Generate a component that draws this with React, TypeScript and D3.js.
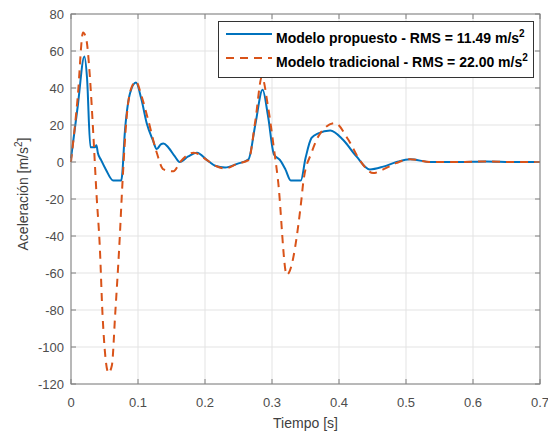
import React, { useEffect, useRef } from 'react'
import * as d3 from 'd3'

// Modelo propuesto (blue)
const tPropuesto = [0, 0.01, 0.020, 0.024, 0.029, 0.036, 0.038, 0.040, 0.045, 0.052, 0.063, 0.075, 0.081, 0.088, 0.097, 0.105, 0.113, 0.122, 0.128, 0.134, 0.138, 0.145, 0.155, 0.162, 0.175, 0.188, 0.203, 0.215, 0.230, 0.248, 0.265, 0.275, 0.286, 0.294, 0.303, 0.312, 0.320, 0.328, 0.343, 0.350, 0.359, 0.369, 0.387, 0.406, 0.426, 0.446, 0.466, 0.486, 0.506, 0.536, 0.58, 0.62, 0.66, 0.7]
const aPropuesto = [2, 30, 57, 45, 8, 8, 9, 5, 1, -4, -10, -10, 19, 37, 43, 34, 21, 12, 7, 9.5, 10, 8, 3, 0, 3, 5, 1, -2, -3, -1, 1.5, 20, 39, 25, 4, 1, -4, -10, -10, 2, 13, 15.5, 17, 12, 3, -4, -2.5, 0, 1.5, 0, 0, 0.3, 0, 0]

// Modelo tradicional (orange, dashed)
const tTradicional = [0, 0.01, 0.018, 0.023, 0.028, 0.033, 0.038, 0.043, 0.047, 0.056, 0.061, 0.066, 0.072, 0.077, 0.083, 0.090, 0.097, 0.105, 0.115, 0.128, 0.138, 0.153, 0.163, 0.183, 0.203, 0.215, 0.230, 0.248, 0.265, 0.275, 0.285, 0.294, 0.303, 0.309, 0.322, 0.325, 0.344, 0.347, 0.359, 0.372, 0.394, 0.414, 0.431, 0.451, 0.466, 0.486, 0.506, 0.536, 0.58, 0.62, 0.66, 0.7]
const aTradicional = [0, 35, 70, 66, 47, 17, -17, -46, -82, -114, -110, -82, -46, -10, 24, 40, 43.5, 36, 23, 5, -4, -5, 0, 5, 1, -2, -3.5, -1, 1, 22, 46, 30, 7, -10, -61, -60, -20, -10, 5, 15.5, 21, 12, 1, -6, -4, -0.5, 1.5, 0, 0, 0.3, 0, 0]

const xTicks = [0, 0.1, 0.2, 0.3, 0.4, 0.5, 0.6, 0.7]
const yTicks = [-120, -100, -80, -60, -40, -20, 0, 20, 40, 60, 80]

const legendLabels = ['Modelo propuesto - RMS = 11.49 m/s', 'Modelo tradicional - RMS = 22.00 m/s']

const FONT = '"Liberation Sans", Arial, Helvetica, sans-serif'

function App() {
    const ref = useRef<SVGSVGElement>(null)

    useEffect(() => {
        const width = 548
        const height = 436
        const margin = { left: 71, right: 8, top: 14, bottom: 52 }
        const x = d3.scaleLinear().domain([0, 0.7]).range([margin.left, width - margin.right])
        const y = d3.scaleLinear().domain([-120, 80]).range([height - margin.bottom, margin.top])

        const svg = d3.select(ref.current)
        svg.selectAll('*').remove()

        const x0 = x.range()[0], x1 = x.range()[1]
        const y0 = y.range()[0], y1 = y.range()[1]

        // white plot background
        svg.append('rect').attr('x', x0).attr('y', y1).attr('width', x1 - x0).attr('height', y0 - y1).attr('fill', '#fff')

        // grid
        const grid = svg.append('g').attr('stroke', '#e3e3e3').attr('stroke-width', 1)
        xTicks.forEach((t) => {
            grid.append('line').attr('x1', x(t)).attr('x2', x(t)).attr('y1', y0).attr('y2', y1)
        })
        yTicks.forEach((t) => {
            grid.append('line').attr('x1', x0).attr('x2', x1).attr('y1', y(t)).attr('y2', y(t))
        })

        // curves
        const line = d3.line<[number, number]>()
            .x((d) => x(d[0]))
            .y((d) => y(d[1]))
            .curve(d3.curveMonotoneX)

        const propuesto = tPropuesto.map((t, i) => [t, aPropuesto[i]] as [number, number])
        const tradicional = tTradicional.map((t, i) => [t, aTradicional[i]] as [number, number])

        svg.append('path').attr('d', line(propuesto)).attr('fill', 'none')
            .attr('stroke', '#0072BD').attr('stroke-width', 2)
        svg.append('path').attr('d', line(tradicional)).attr('fill', 'none')
            .attr('stroke', '#D95319').attr('stroke-width', 2).attr('stroke-dasharray', '8,6')

        // axes box + ticks
        const axisColor = '#808080'
        const box = svg.append('g').attr('stroke', axisColor).attr('stroke-width', 1).attr('fill', 'none')
        box.append('rect').attr('x', x0).attr('y', y1).attr('width', x1 - x0).attr('height', y0 - y1)
        xTicks.forEach((t) => {
            box.append('line').attr('x1', x(t)).attr('x2', x(t)).attr('y1', y0).attr('y2', y0 - 5)
            box.append('line').attr('x1', x(t)).attr('x2', x(t)).attr('y1', y1).attr('y2', y1 + 5)
        })
        yTicks.forEach((t) => {
            box.append('line').attr('x1', x0).attr('x2', x0 + 5).attr('y1', y(t)).attr('y2', y(t))
            box.append('line').attr('x1', x1).attr('x2', x1 - 5).attr('y1', y(t)).attr('y2', y(t))
        })

        // tick labels
        const labels = svg.append('g').attr('font-family', FONT).attr('font-size', 13).attr('fill', '#4d4d4d')
        xTicks.forEach((t) => {
            labels.append('text').attr('x', x(t)).attr('y', y0 + 23).attr('text-anchor', 'middle').text(String(t))
        })
        yTicks.forEach((t) => {
            labels.append('text').attr('x', x0 - 7).attr('y', y(t) + 4.5).attr('text-anchor', 'end').text(String(t))
        })

        // axis titles
        svg.append('text').attr('x', (x0 + x1) / 2).attr('y', 428).attr('text-anchor', 'middle')
            .attr('font-family', FONT).attr('font-size', 14).attr('fill', '#404040').text('Tiempo [s]')

        const yl = svg.append('text').attr('transform', 'translate(28,194) rotate(-90)').attr('text-anchor', 'middle')
            .attr('font-family', FONT).attr('font-size', 14).attr('fill', '#404040')
        yl.append('tspan').text('Aceleración [m/s')
        yl.append('tspan').attr('font-size', 10).attr('dy', -6).text('2')
        yl.append('tspan').attr('dy', 6).text(']')

        // legend
        const lg = svg.append('g')
        lg.append('rect').attr('x', 218.5).attr('y', 21.5).attr('width', 315).attr('height', 56)
            .attr('fill', '#fff').attr('stroke', '#333').attr('stroke-width', 1)
        const colors = ['#0072BD', '#D95319']
        const dashes = [null, '8,6']
        legendLabels.forEach((lab, i) => {
            const ly = 34 + i * 24
            lg.append('line').attr('x1', 226).attr('x2', 272).attr('y1', ly).attr('y2', ly)
                .attr('stroke', colors[i]).attr('stroke-width', 2).attr('stroke-dasharray', dashes[i])
            const txt = lg.append('text').attr('x', 276).attr('y', ly + 9)
                .attr('font-family', FONT).attr('font-size', 14).attr('font-weight', 'bold').attr('fill', '#000')
            txt.append('tspan').text(lab)
            txt.append('tspan').attr('font-size', 10).attr('dy', -6).text('2')
        })
    }, [])

    return (
        <svg ref={ref} width={548} height={436} style={{ position: 'absolute', left: 0, top: 0, background: '#fff' }} />
    )
}

export default App
